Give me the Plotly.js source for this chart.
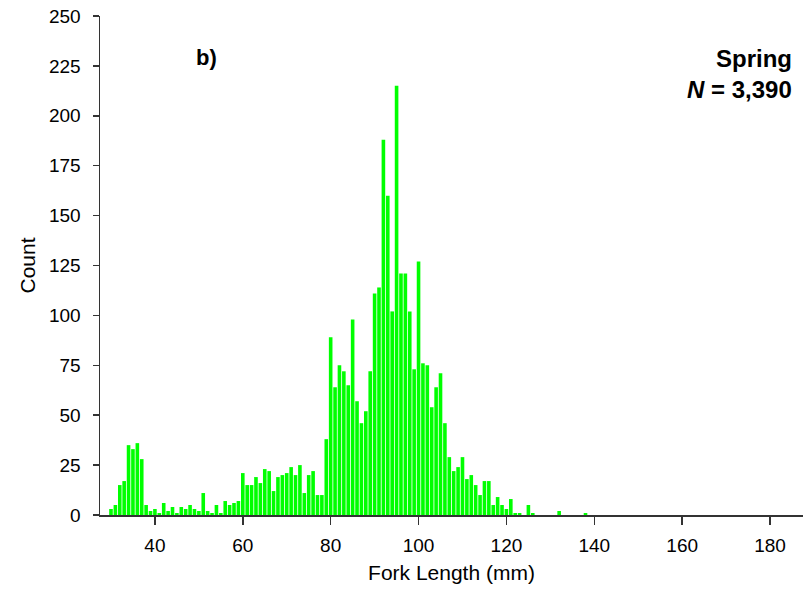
<!DOCTYPE html>
<html>
<head>
<meta charset="utf-8">
<script src="https://cdn.plot.ly/plotly-3.0.1.min.js"></script>
<style>
html,body{margin:0;padding:0;background:#fff;}
#chart{width:804px;height:590px;}
</style>
</head>
<body>
<div id="chart"></div>
<script>
// Fork length bins (mm)
const forkLength = [30,31,32,33,34,35,36,37,38,39,
  40,41,42,43,44,45,46,47,48,49,
  50,51,52,53,54,55,56,57,58,59,
  60,61,62,63,64,65,66,67,68,69,
  70,71,72,73,74,75,76,77,78,79,
  80,81,82,83,84,85,86,87,88,89,
  90,91,92,93,94,95,96,97,98,99,
  100,101,102,103,104,105,106,107,108,109,
  110,111,112,113,114,115,116,117,118,119,
  120,121,122,123,124,125,126,127,128,129,
  130,131,132,133,134,135,136,137,138];
// Counts per bin
const counts = [3,5,15,17,35,33,36,28,5,2,
  3,1,6,2,4,1,4,3,5,3,
  2,11,2,1,5,1,7,5,6,7,
  21,15,15,19,16,23,22,12,19,20,
  21,24,20,25,11,20,22,10,10,38,
  89,64,75,72,65,98,57,46,52,72,
  111,114,188,160,102,215,121,121,102,73,
  127,76,75,54,64,71,46,29,22,24,
  29,18,20,15,10,17,17,5,9,5,
  3,8,1,1,0,5,1,0,0,0,
  0,0,2,0,0,0,0,0,1];
const xTicks = [40,60,80,100,120,140,160,180];
const yTicks = [0,25,50,75,100,125,150,175,200,225,250];
const panelLabel = "b)";
const seasonLabel = "Spring";
const nLabel = "<i>N</i> = 3,390";

const FONT = "Liberation Sans, Arial, sans-serif";

const trace = {
  type: "bar",
  x: forkLength,
  y: counts,
  marker: {color: "#00ff00", line: {width: 0}},
  hoverinfo: "x+y"
};

const layout = {
  width: 804, height: 590,
  margin: {l: 100, r: 1, t: 16, b: 75},
  paper_bgcolor: "#fff", plot_bgcolor: "#fff",
  bargap: 0.18,
  showlegend: false,
  font: {family: FONT, color: "#000", size: 19},
  xaxis: {
    range: [27.5, 187.5],
    tickvals: xTicks,
    ticktext: xTicks.map(String),
    ticks: "outside", ticklen: 8, tickwidth: 1.5, tickcolor: "#333",
    showline: true, linecolor: "#333", linewidth: 1.5,
    showgrid: false, zeroline: false,
    tickfont: {family: FONT, size: 19, color: "#000"},
    ticklabelstandoff: 5,
    title: {text: "Fork Length (mm)", font: {family: FONT, size: 21, color: "#000"}, standoff: 10}
  },
  yaxis: {
    range: [0, 250],
    tickvals: yTicks,
    ticktext: yTicks.map(String),
    ticks: "outside", ticklen: 6, tickwidth: 1.5, tickcolor: "#333",
    showline: true, linecolor: "#333", linewidth: 1.5,
    showgrid: false, zeroline: false,
    tickfont: {family: FONT, size: 19, color: "#000"},
    ticklabelstandoff: 8,
    title: {text: "Count", font: {family: FONT, size: 21, color: "#000"}, standoff: 7}
  },
  annotations: [
    {xref: "paper", yref: "paper", x: 0.152, y: 0.916, text: "<b>" + panelLabel + "</b>",
     showarrow: false, xanchor: "center", yanchor: "middle",
     font: {family: FONT, size: 22, color: "#000"}},
    {xref: "paper", yref: "paper", x: 0.987, y: 0.914, text: "<b>" + seasonLabel + "</b>",
     showarrow: false, xanchor: "right", yanchor: "middle",
     font: {family: FONT, size: 24, color: "#000"}},
    {xref: "paper", yref: "paper", x: 0.987, y: 0.852, text: "<b>" + nLabel + "</b>",
     showarrow: false, xanchor: "right", yanchor: "middle",
     font: {family: FONT, size: 24, color: "#000"}}
  ]
};

Plotly.newPlot("chart", [trace], layout, {displayModeBar: false, staticPlot: true});
</script>
</body>
</html>
